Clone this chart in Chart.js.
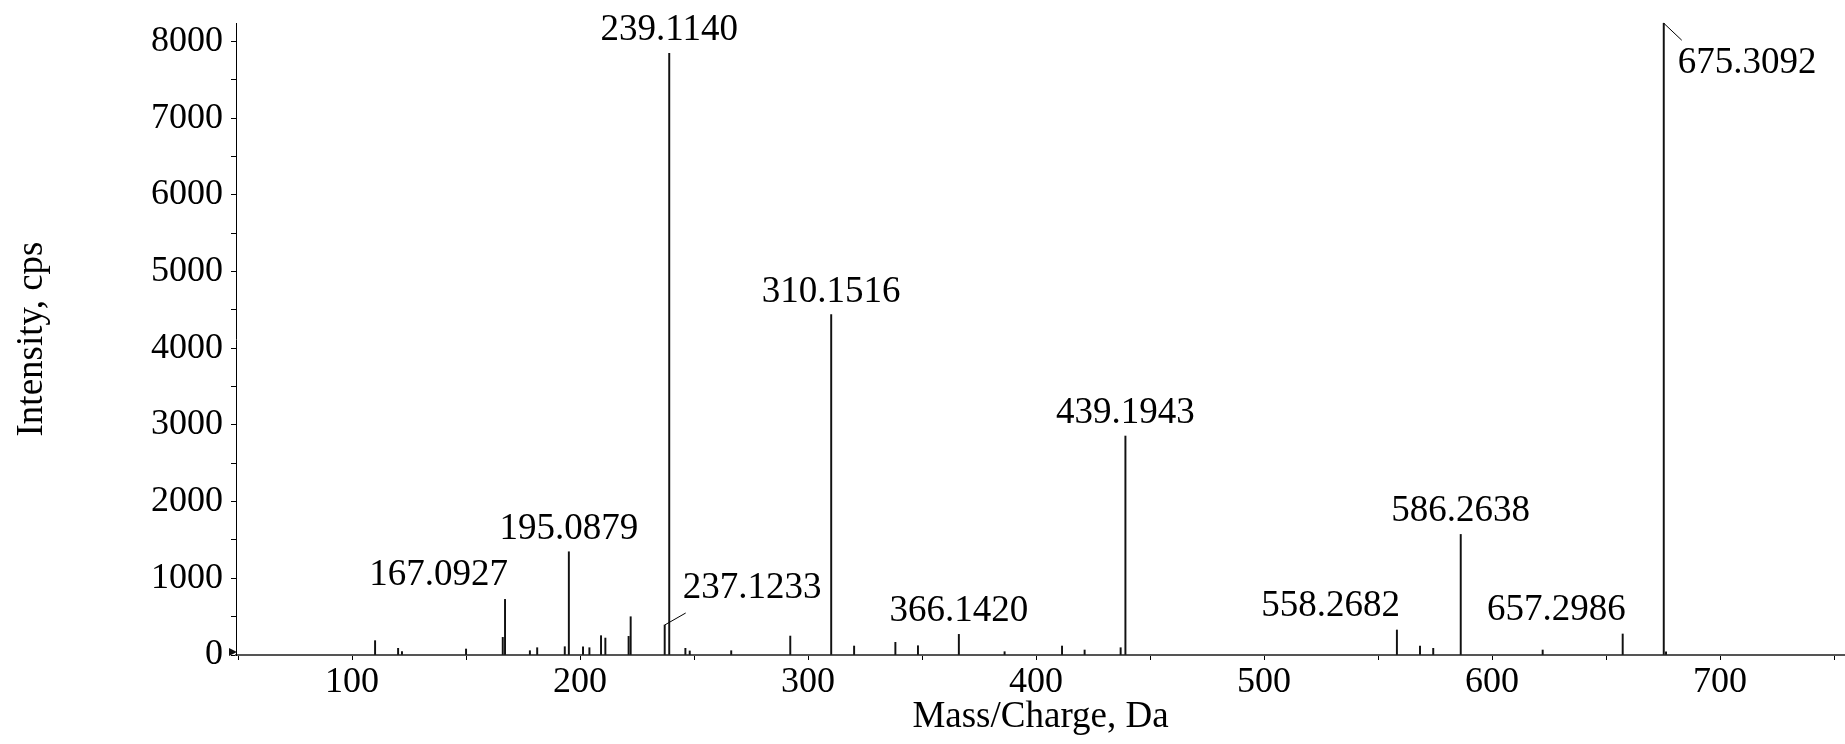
<!DOCTYPE html>
<html><head><meta charset="utf-8">
<script src="https://cdn.jsdelivr.net/npm/chart.js@4.4.1/dist/chart.umd.min.js"></script>
<style>html,body{margin:0;padding:0;background:#fff;}#wrap{width:1845px;height:744px;}</style>
</head><body><div id="wrap"><canvas id="c" width="1845" height="744"></canvas></div>
<script>
// ---- data ----
const mzValues = [110.1, 120.2, 121.9, 150.0, 166.1, 167.0927, 178.0, 181.2, 193.3, 195.0879, 201.3, 204.1, 209.2, 211.1, 221.3, 222.2, 237.1233, 239.1140, 246.2, 248.1, 266.3, 292.2, 310.1516, 320.2, 338.3, 348.2, 366.1420, 386.2, 411.4, 421.3, 437.1, 439.1943, 558.2682, 568.4, 574.2, 586.2638, 622.2, 657.2986, 675.3092, 676.3];
const intensities = [187, 87, 43, 78, 230, 725, 56, 95, 108, 1346, 108, 95, 252, 221, 243, 499, 391, 7846, 87, 53, 56, 247, 4438, 117, 165, 121, 269, 43, 117, 65, 95, 2855, 326, 117, 87, 1572, 65, 274, 8237, 40];
const labelMz = [167.0927, 195.0879, 237.1233, 239.1140, 310.1516, 366.1420, 439.1943, 558.2682, 586.2638, 657.2986, 675.3092];
const labelIntensity = [725, 1346, 391, 7846, 4438, 269, 2855, 326, 1572, 274, 8237];
const labelText = ['167.0927', '195.0879', '237.1233', '239.1140', '310.1516', '366.1420', '439.1943', '558.2682', '586.2638', '657.2986', '675.3092'];
const xTickLabels = [100, 200, 300, 400, 500, 600, 700];
const xMinorTicks = [50, 150, 250, 350, 450, 550, 650, 750];
const yTickLabels = [0, 1000, 2000, 3000, 4000, 5000, 6000, 7000, 8000];
const yMinorTicks = [500, 1500, 2500, 3500, 4500, 5500, 6500, 7500];

// ---- label placement style (not data) ----
const labelPlacement = ['right', 'center', 'leaderUp', 'center', 'center', 'center', 'center', 'right', 'center', 'right', 'leaderDown'];

const FONT = '"Liberation Serif", "Times New Roman", serif';

const peakLabels = {
  id: 'peakLabels',
  afterDatasetsDraw(chart) {
    const {ctx, scales: {x, y}} = chart;
    ctx.save();
    ctx.font = '37px ' + FONT;
    ctx.fillStyle = '#000';
    ctx.strokeStyle = '#000';
    ctx.lineWidth = 1;
    ctx.textBaseline = 'alphabetic';
    labelMz.forEach((m, i) => {
      const px = x.getPixelForValue(m);
      const py = y.getPixelForValue(labelIntensity[i]);
      const mode = labelPlacement[i];
      if (mode === 'center') {
        ctx.textAlign = 'center';
        ctx.fillText(labelText[i], px, py - 13);
      } else if (mode === 'right') {
        ctx.textAlign = 'right';
        ctx.fillText(labelText[i], px + 3, py - 14);
      } else if (mode === 'leaderUp') {
        ctx.beginPath(); ctx.moveTo(px, py); ctx.lineTo(px + 21, py - 12); ctx.stroke();
        ctx.textAlign = 'left';
        ctx.fillText(labelText[i], px + 18, py - 27);
      } else if (mode === 'leaderDown') {
        ctx.beginPath(); ctx.moveTo(px, py); ctx.lineTo(px + 18, py + 17); ctx.stroke();
        ctx.textAlign = 'left';
        ctx.fillText(labelText[i], px + 14, py + 50);
      }
    });
    // small start marker at the zero level
    const zx = chart.chartArea.left, zy = y.getPixelForValue(0) - 3;
    ctx.fillStyle = '#111';
    ctx.beginPath(); ctx.moveTo(zx - 7, zy - 4); ctx.lineTo(zx + 1, zy); ctx.lineTo(zx - 7, zy + 4); ctx.closePath(); ctx.fill();
    ctx.restore();
  }
};

const mergedTicks = (a, b) => a.concat(b).sort((p, q) => p - q).map(v => ({value: v}));

new Chart(document.getElementById('c'), {
  type: 'bar',
  data: {
    datasets: [{
      data: mzValues.map((m, i) => ({x: m, y: intensities[i]})),
      backgroundColor: '#111',
      borderWidth: 0,
      barThickness: 1.3
    }]
  },
  options: {
    responsive: false,
    animation: false,
    devicePixelRatio: 1,
    layout: {padding: {top: 23, right: 0, bottom: 0, left: 0}},
    plugins: {legend: {display: false}, tooltip: {enabled: false}},
    scales: {
      x: {
        type: 'linear',
        offset: false,
        min: 49.1,
        max: 754.8,
        grid: {drawOnChartArea: false, drawTicks: true, tickLength: 5, color: '#000', offset: false},
        border: {display: true, color: '#555', width: 2},
        ticks: {
          maxRotation: 0, autoSkip: false, padding: 1,
          color: '#000', font: {family: FONT, size: 36, lineHeight: 1.2},
          callback: (v) => xTickLabels.includes(v) ? String(v) : ''
        },
        title: {display: true, text: 'Mass/Charge, Da', color: '#000', font: {family: FONT, size: 37, lineHeight: 1.2}, padding: {top: 0, bottom: 5}},
        afterBuildTicks(s) { s.ticks = mergedTicks(xTickLabels, xMinorTicks).filter(t => t.value >= 49.1 && t.value <= 754.8); },
        afterFit(s) { s.height = 89; s.paddingLeft = 0; s.paddingRight = 0; }
      },
      y: {
        min: 0,
        max: 8240,
        grid: {drawOnChartArea: false, drawTicks: true, tickLength: 5, color: '#000'},
        border: {display: true, color: '#000', width: 1},
        ticks: {
          autoSkip: false, padding: 8,
          color: '#000', font: {family: FONT, size: 36, lineHeight: 1.2},
          callback: (v) => yTickLabels.includes(v) ? String(v) : ''
        },
        title: {display: true, text: 'Intensity, cps', color: '#000', font: {family: FONT, size: 37, lineHeight: 1.2}, padding: {top: 10, bottom: 0}},
        afterBuildTicks(s) { s.ticks = mergedTicks(yTickLabels, yMinorTicks); },
        afterFit(s) { s.width = 236; s.paddingTop = 0; s.paddingBottom = 0; }
      }
    }
  },
  plugins: [peakLabels]
});
</script>
</body></html>
